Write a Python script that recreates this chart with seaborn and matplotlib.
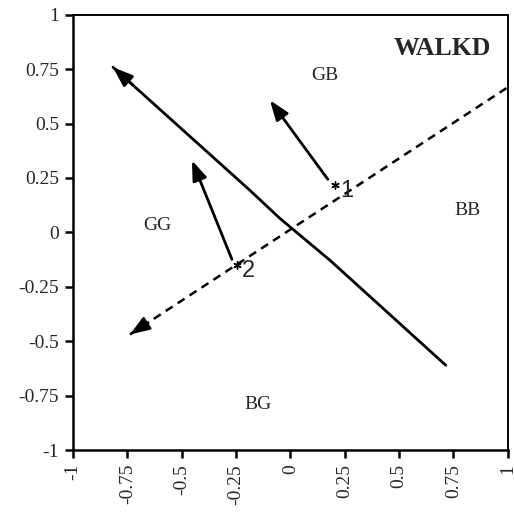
import matplotlib
matplotlib.use("Agg")
import matplotlib.pyplot as plt
import seaborn as sns
import numpy as np
import pandas as pd

# ---- data ----
solid_x = [-0.816, -0.186, -0.048, 0.183, 0.715]
solid_y = [0.759, 0.193, 0.064, -0.129, -0.611]
dash_x = [-0.738, 1.0]
dash_y = [-0.469, 0.667]
point_x = [0.205, -0.246]
point_y = [0.216, -0.152]
point_labels = ["1", "2"]
label_pos_x = [0.26, -0.195]
label_pos_y = [0.188, -0.179]
vec_tail_x = [0.172, -0.269]
vec_tail_y = [0.244, -0.124]
vec_tip_x = [-0.094, -0.453]
vec_tip_y = [0.607, 0.331]
region_labels = ["GB", "BB", "GG", "BG"]
region_x = [0.159, 0.816, -0.614, -0.15]
region_y = [0.722, 0.101, 0.032, -0.79]
title_text = "WALKD"
title_x, title_y = 0.697, 0.846
ticks = [-1, -0.75, -0.5, -0.25, 0, 0.25, 0.5, 0.75, 1]
tick_labels = ["-1", "-0.75", "-0.5", "-0.25", "0", "0.25", "0.5", "0.75", "1"]

sns.set_style("white")
plt.rcParams["font.family"] = ["Liberation Serif", "DejaVu Serif"]

fig = plt.figure(figsize=(5.14, 5.2), dpi=100)
ax = fig.add_axes([0.142, 0.1346, 0.846, 0.837])

solid_df = pd.DataFrame({"x": solid_x, "y": solid_y})
dash_df = pd.DataFrame({"x": dash_x, "y": dash_y})
sns.lineplot(data=solid_df, x="x", y="y", sort=False, color="black", lw=2.0, ax=ax)
sns.lineplot(data=dash_df, x="x", y="y", sort=False, color="black", lw=1.8,
             ax=ax, linestyle=(0, (3.3, 2.4)))

head = "-|>,head_length=0.6,head_width=0.22"
# arrow head on solid line
d0 = np.array([solid_x[0] - solid_x[1], solid_y[0] - solid_y[1]])
d0 = d0 / np.hypot(*d0)
ax.annotate("", xy=(solid_x[0], solid_y[0]),
            xytext=(solid_x[0] - 0.12 * d0[0], solid_y[0] - 0.12 * d0[1]),
            arrowprops=dict(arrowstyle=head, color="black", lw=2.0,
                            mutation_scale=20, shrinkA=0, shrinkB=0))
# arrow head on dashed line (solid head, short shaft)
d = np.array([dash_x[0] - dash_x[1], dash_y[0] - dash_y[1]])
d = d / np.hypot(*d)
ax.annotate("", xy=(dash_x[0], dash_y[0]),
            xytext=(dash_x[0] - 0.1 * d[0], dash_y[0] - 0.1 * d[1]),
            arrowprops=dict(arrowstyle=head, color="black", lw=1.8,
                            mutation_scale=20, shrinkA=0, shrinkB=0))
# vectors for points
for tx, ty, hx, hy in zip(vec_tail_x, vec_tail_y, vec_tip_x, vec_tip_y):
    ax.annotate("", xy=(hx, hy), xytext=(tx, ty),
                arrowprops=dict(arrowstyle=head, color="black", lw=2.0,
                                mutation_scale=20, shrinkA=0, shrinkB=0))

ax.scatter(point_x, point_y, marker=(6, 2, 0), s=28, color="black", lw=1.0, zorder=5)
for lx, ly, t in zip(label_pos_x, label_pos_y, point_labels):
    ax.text(lx, ly, t, ha="center", va="center", fontsize=17,
            family=["Liberation Sans", "DejaVu Sans"])

for rx, ry, t in zip(region_x, region_y, region_labels):
    ax.text(rx, ry, t, ha="center", va="center", fontsize=14)
ax.text(title_x, title_y, title_text, ha="center", va="center", fontsize=18.5,
        fontweight="bold")

ax.set_xlim(-1, 1)
ax.set_ylim(-1, 1)
ax.set_xticks(ticks)
ax.set_yticks(ticks)
ax.set_xticklabels(tick_labels, rotation=90, fontsize=14)
ax.set_yticklabels(tick_labels, fontsize=14)
ax.set_xlabel("")
ax.set_ylabel("")
ax.tick_params(axis="both", direction="out", length=6, width=1.8, color="black",
               left=True, bottom=True, pad=4)
for side, sp in ax.spines.items():
    sp.set_color("black")
    sp.set_linewidth(1.8 if side in ("left", "bottom") else 1.4)

fig.savefig("out.png", dpi=100, facecolor="white")
